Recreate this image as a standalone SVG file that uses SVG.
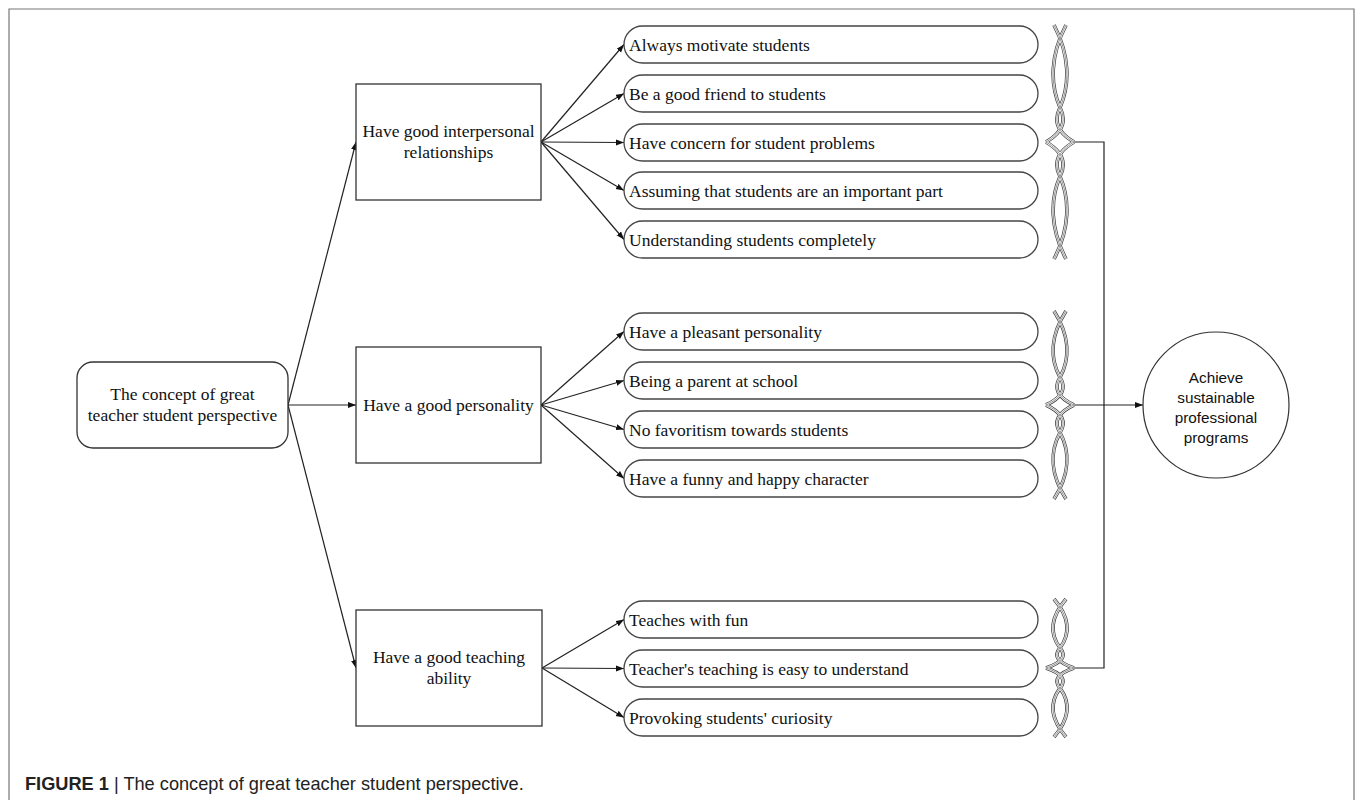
<svg xmlns="http://www.w3.org/2000/svg" xmlns:xlink="http://www.w3.org/1999/xlink" width="1355" height="800" viewBox="0 0 1355 800">
<style>
.frame{fill:none;stroke:#777;stroke-width:1.2}
.box{fill:#fff;stroke:#333;stroke-width:1.3}
.pill{fill:#fff;stroke:#444;stroke-width:1.3}
.t{font-family:"Liberation Serif","Times New Roman",serif;font-size:17.5px;fill:#111}
.tm{text-anchor:middle}
.s{font-family:"Liberation Sans",Arial,sans-serif;font-size:15.3px;fill:#111;text-anchor:middle}
.cap{font-family:"Liberation Sans",Arial,sans-serif;font-size:18.2px;fill:#222}
.con{fill:none;stroke:#222;stroke-width:1.2}
.arr{marker-end:url(#ah)}
.b1{fill:none;stroke:#444;stroke-width:3.6}
.b2{fill:none;stroke:#fff;stroke-width:2.1}
.b3{fill:none;stroke:#666;stroke-width:0.7}
</style>
<defs>
<marker id="ah" markerUnits="userSpaceOnUse" markerWidth="9" markerHeight="7" refX="8" refY="3" orient="auto">
<path d="M0,0 L8,3 L0,6 z" fill="#111"/>
</marker>
<path id="br1" d="M1066,25 C1050,55.75 1050,84.5 1060,107.5 C1067,121.3 1062,132.8 1046,142 M1054,25 C1070,55.75 1070,84.5 1060,107.5 C1053,121.3 1058,132.8 1074,142 M1066,259 C1050,228.25 1050,199.5 1060,176.5 C1067,162.7 1062,151.2 1046,142 M1054,259 C1070,228.25 1070,199.5 1060,176.5 C1053,162.7 1058,151.2 1074,142"/>
<path id="br2" d="M1066,311 C1050,336 1050,359 1060,377.4 C1067,388.4 1062,397.6 1046,405 M1054,311 C1070,336 1070,359 1060,377.4 C1053,388.4 1058,397.6 1074,405 M1066,499 C1050,474 1050,451 1060,432.6 C1067,421.6 1062,412.4 1046,405 M1054,499 C1070,474 1070,451 1060,432.6 C1053,421.6 1058,412.4 1074,405"/>
<path id="br3" d="M1066,599 C1050,617.75 1050,634.5 1060,647.9 C1067,655.9 1062,662.6 1046,668 M1054,599 C1070,617.75 1070,634.5 1060,647.9 C1053,655.9 1058,662.6 1074,668 M1066,737 C1050,718.25 1050,701.5 1060,688.1 C1067,680.1 1062,673.4 1046,668 M1054,737 C1070,718.25 1070,701.5 1060,688.1 C1053,680.1 1058,673.4 1074,668"/>
</defs>
<rect x="0" y="0" width="1355" height="800" fill="#fff"/>
<path class="frame" d="M9,805 L9,9 L1354,9 L1354,805"/>

<g id="connectors">
<line class="con arr" x1="288" y1="405" x2="356" y2="142"/>
<line class="con arr" x1="288" y1="405" x2="356" y2="405"/>
<line class="con arr" x1="288" y1="405" x2="356" y2="668"/>
<line class="con arr" x1="541" y1="142" x2="624" y2="44.5"/>
<line class="con arr" x1="541" y1="142" x2="624" y2="93.5"/>
<line class="con arr" x1="541" y1="142" x2="624" y2="142.5"/>
<line class="con arr" x1="541" y1="142" x2="624" y2="190.5"/>
<line class="con arr" x1="541" y1="142" x2="624" y2="239.5"/>
<line class="con arr" x1="541" y1="405" x2="624" y2="331.5"/>
<line class="con arr" x1="541" y1="405" x2="624" y2="380.5"/>
<line class="con arr" x1="541" y1="405" x2="624" y2="429.5"/>
<line class="con arr" x1="541" y1="405" x2="624" y2="478.5"/>
<line class="con arr" x1="542" y1="668" x2="624" y2="619.5"/>
<line class="con arr" x1="542" y1="668" x2="624" y2="668.5"/>
<line class="con arr" x1="542" y1="668" x2="624" y2="717.5"/>
<polyline class="con" points="1074,142 1104,142 1104,668 1074,668"/>
<line class="con arr" x1="1074" y1="405" x2="1143" y2="405"/>
</g>

<g id="root">
<rect class="box" x="77" y="362" width="211" height="86" rx="16"/>
<text class="t tm" x="182.5" y="400">The concept of great</text>
<text class="t tm" x="182.5" y="421">teacher student perspective</text>
</g>

<g id="interpersonal">
<rect class="box" x="356" y="84" width="185" height="116"/>
<text class="t tm" x="448.5" y="137">Have good interpersonal</text>
<text class="t tm" x="448.5" y="158">relationships</text>
</g>
<g id="personality">
<rect class="box" x="356" y="347" width="185" height="116"/>
<text class="t tm" x="448.5" y="411">Have a good personality</text>
</g>
<g id="teaching">
<rect class="box" x="356" y="610" width="186" height="116"/>
<text class="t tm" x="449" y="663">Have a good teaching</text>
<text class="t tm" x="449" y="684">ability</text>
</g>

<g id="pill-1-1"><rect class="pill" x="624" y="26" width="414" height="37" rx="18.5"/><text class="t" x="629" y="50.5">Always motivate students</text></g>
<g id="pill-1-2"><rect class="pill" x="624" y="75" width="414" height="37" rx="18.5"/><text class="t" x="629" y="99.5">Be a good friend to students</text></g>
<g id="pill-1-3"><rect class="pill" x="624" y="124" width="414" height="37" rx="18.5"/><text class="t" x="629" y="148.5">Have concern for student problems</text></g>
<g id="pill-1-4"><rect class="pill" x="624" y="172" width="414" height="37" rx="18.5"/><text class="t" x="629" y="196.5">Assuming that students are an important part</text></g>
<g id="pill-1-5"><rect class="pill" x="624" y="221" width="414" height="37" rx="18.5"/><text class="t" x="629" y="245.5">Understanding students completely</text></g>

<g id="pill-2-1"><rect class="pill" x="624" y="313" width="414" height="37" rx="18.5"/><text class="t" x="629" y="337.5">Have a pleasant personality</text></g>
<g id="pill-2-2"><rect class="pill" x="624" y="362" width="414" height="37" rx="18.5"/><text class="t" x="629" y="386.5">Being a parent at school</text></g>
<g id="pill-2-3"><rect class="pill" x="624" y="411" width="414" height="37" rx="18.5"/><text class="t" x="629" y="435.5">No favoritism towards students</text></g>
<g id="pill-2-4"><rect class="pill" x="624" y="460" width="414" height="37" rx="18.5"/><text class="t" x="629" y="484.5">Have a funny and happy character</text></g>

<g id="pill-3-1"><rect class="pill" x="624" y="601" width="414" height="37" rx="18.5"/><text class="t" x="629" y="625.5">Teaches with fun</text></g>
<g id="pill-3-2"><rect class="pill" x="624" y="650" width="414" height="37" rx="18.5"/><text class="t" x="629" y="674.5">Teacher's teaching is easy to understand</text></g>
<g id="pill-3-3"><rect class="pill" x="624" y="699" width="414" height="37" rx="18.5"/><text class="t" x="629" y="723.5">Provoking students' curiosity</text></g>

<g id="brace-1"><use xlink:href="#br1" class="b1"/><use xlink:href="#br1" class="b2"/><use xlink:href="#br1" class="b3"/></g>
<g id="brace-2"><use xlink:href="#br2" class="b1"/><use xlink:href="#br2" class="b2"/><use xlink:href="#br2" class="b3"/></g>
<g id="brace-3"><use xlink:href="#br3" class="b1"/><use xlink:href="#br3" class="b2"/><use xlink:href="#br3" class="b3"/></g>

<g id="outcome">
<circle cx="1216" cy="405" r="73" fill="#fff" stroke="#333" stroke-width="1.2"/>
<text class="s" x="1216" y="383">Achieve</text>
<text class="s" x="1216" y="403">sustainable</text>
<text class="s" x="1216" y="423">professional</text>
<text class="s" x="1216" y="443">programs</text>
</g>

<text class="cap" x="25" y="790"><tspan font-weight="bold">FIGURE 1</tspan> | The concept of great teacher student perspective.</text>
</svg>
